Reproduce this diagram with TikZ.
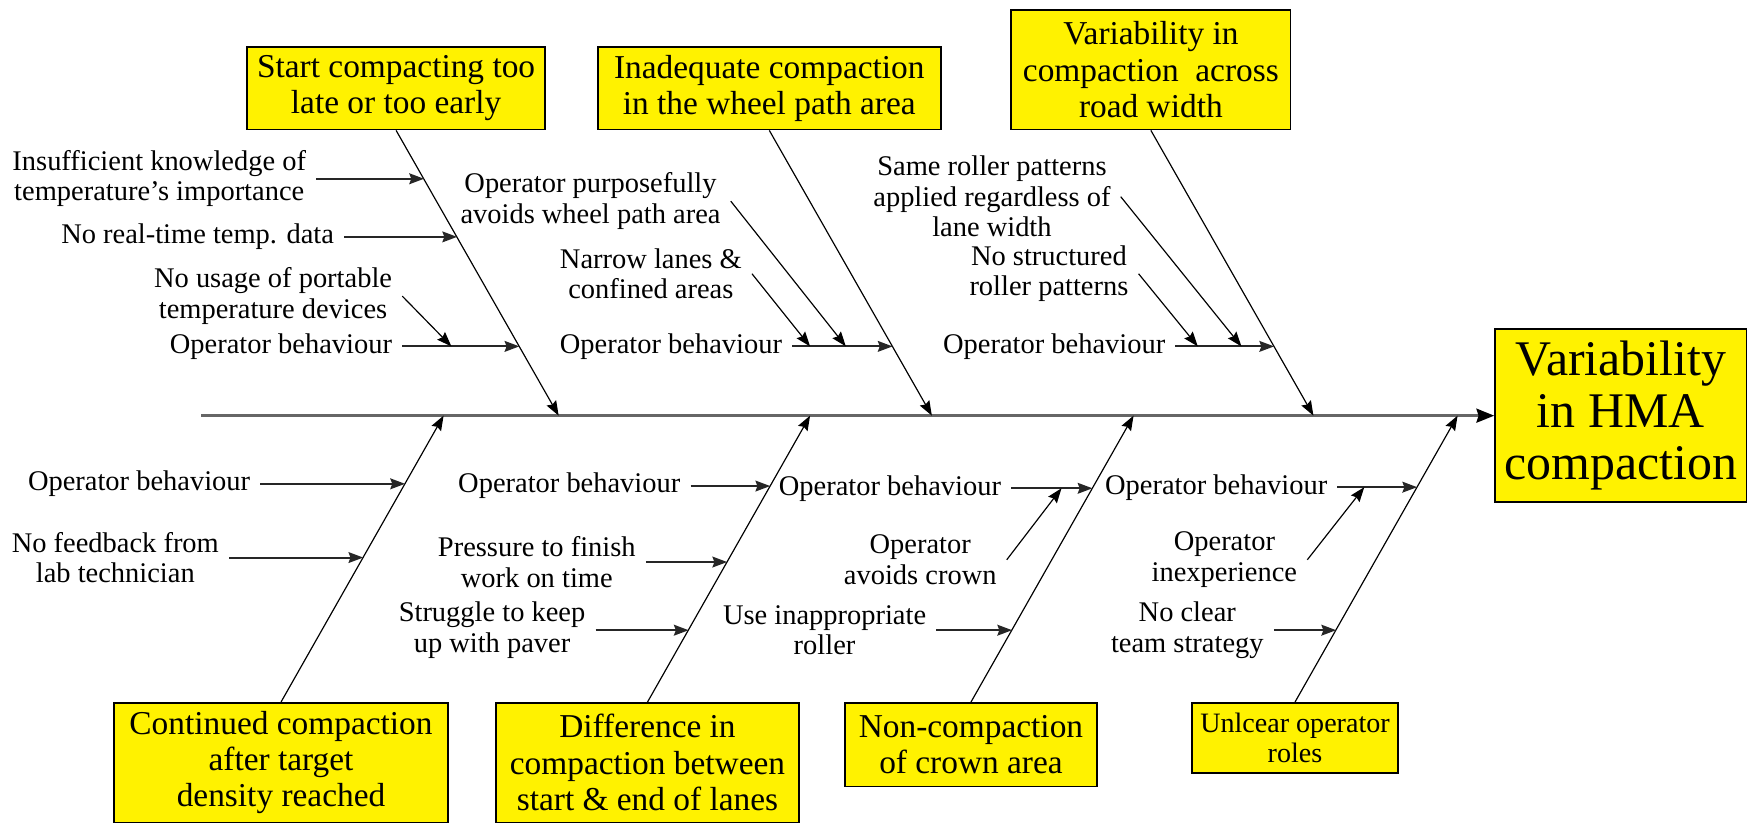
\documentclass[tikz,border=0pt]{standalone}
\usepackage{fontspec}
\setmainfont{Liberation Serif}
\usetikzlibrary{arrows.meta, positioning}
\tikzset{>={Stealth[length=7.5pt,width=5.5pt,inset=1pt]}}
\tikzset{
  cause/.style={draw=black, line width=0.8pt, fill=yellow, align=center, inner sep=2pt,
    font=\fontsize{17}{18.5}\selectfont},
  effect/.style={cause, font=\fontsize{25.4}{26.5}\selectfont, minimum width=4.5cm, minimum height=3.1cm},
  lbl/.style={align=center, inner sep=0pt, inner xsep=5pt, anchor=east,
    font=\fontsize{14.5}{15.5}\selectfont},
  spine/.style={line width=1.6pt, black!60, -{Stealth[length=9pt,width=7pt,inset=1pt,black]}},
  bone/.style={line width=0.6pt},
  twig/.style={line width=1pt, black!85}
}

\begin{document}
\begin{tikzpicture}[x=0.02cm, y=-0.02cm]
	\useasboundingbox (0,0) rectangle (1568,737);

	% effect and spine
	\node[effect] (E) at (1450.5,372) {Variability\\in HMA\\compaction};
	\coordinate (S) at (180,372);
	\draw[spine] (S) -- (E.west);

	% main causes
	\node[cause, minimum width=5.34cm, minimum height=1.48cm] (C1) at (354.5,79) {Start compacting too\\late or too early};
	\node[cause, minimum width=6.14cm, minimum height=1.48cm] (C2) at (688.5,79) {Inadequate compaction\\in the wheel path area};
	\node[cause, minimum width=5cm, minimum height=2.14cm] (C3) at (1030,62.5) {Variability in\\compaction\ \ across\\road width};
	\node[cause, minimum width=5.98cm, minimum height=2.14cm] (C4) at (251.5,682.5) {Continued compaction\\after target\\density reached};
	\node[cause, minimum width=5.42cm, minimum height=2.14cm] (C5) at (579.5,682.5) {Difference in\\compaction between\\start \& end of lanes};
	\node[cause, minimum width=4.52cm, minimum height=1.5cm] (C6) at (869,666.5) {Non-compaction\\of crown area};
	\node[cause, minimum width=3.68cm, minimum height=1.26cm, font=\fontsize{14.3}{15.3}\selectfont] (C7) at (1159,660.5) {Unlcear operator\\roles};

	\coordinate (s1) at (500,372);   \coordinate (s2) at (834,372);
	\coordinate (s3) at (1175.5,372);
	\coordinate (s4) at (397,372);   \coordinate (s5) at (725,372);
	\coordinate (s6) at (1014.5,372); \coordinate (s7) at (1304.5,372);
	\draw[bone,->] (C1.south) -- (s1); \draw[bone,->] (C2.south) -- (s2);
	\draw[bone,->] (C3.south) -- (s3);
	\draw[bone,->] (C4.north) -- (s4); \draw[bone,->] (C5.north) -- (s5);
	\draw[bone,->] (C6.north) -- (s6); \draw[bone,->] (C7.north) -- (s7);

	% start compacting too late or too early
	\node[lbl] (K1) at (283,160) {Insufficient knowledge of\\temperature's importance};
	\node[lbl] (K2) at (308,212) {No real-time temp. data};
	\node[lbl] (K3) at (360,265) {No usage of portable\\temperature devices};
	\node[lbl] (K4) at (360,310) {Operator behaviour};
	\coordinate (b1a) at (379.5,160); \coordinate (b1b) at (409.1,212);
	\coordinate (b1c) at (464.8,310); \coordinate (t1) at (404,310);
	\draw[twig,->] (K1.east) -- (b1a); \draw[twig,->] (K2.east) -- (b1b);
	\draw[twig,->] (K4.east) -- (b1c); \draw[bone,->] (K3.east) -- (t1);

	% wheel path area
	\node[lbl] (W1) at (654,180) {Operator purposefully\\avoids wheel path area};
	\node[lbl] (W2) at (673,245) {Narrow lanes \&\\confined areas};
	\node[lbl] (W3) at (709,310) {Operator behaviour};
	\coordinate (b2) at (798.8,310);
	\coordinate (t2a) at (757,310); \coordinate (t2b) at (725,310);
	\draw[twig,->] (W3.east) -- (b2);
	\draw[bone,->] (W1.east) -- (t2a); \draw[bone,->] (W2.east) -- (t2b);

	% across road width
	\node[lbl] (R1) at (1003,176) {Same roller patterns\\applied regardless of\\lane width};
	\node[lbl] (R2) at (1019,245) {No structured\\roller patterns};
	\node[lbl] (R3) at (1052,310) {Operator behaviour};
	\coordinate (b3) at (1140.3,310);
	\coordinate (t3a) at (1111,310); \coordinate (t3b) at (1072,310);
	\draw[twig,->] (R3.east) -- (b3);
	\draw[bone,->] (R1.east) -- (t3a); \draw[bone,->] (R2.east) -- (t3b);

	% continued compaction
	\node[lbl] (D1) at (233,433) {Operator behaviour};
	\node[lbl] (D2) at (205,499) {No feedback from\\lab technician};
	\coordinate (b4a) at (362.5,433); \coordinate (b4b) at (325.1,499);
	\draw[twig,->] (D1.east) -- (b4a); \draw[twig,->] (D2.east) -- (b4b);

	% start & end of lanes
	\node[lbl] (L1) at (618,435) {Operator behaviour};
	\node[lbl] (L2) at (578,503) {Pressure to finish\\work on time};
	\node[lbl] (L3) at (533,564) {Struggle to keep\\up with paver};
	\coordinate (b5a) at (689.3,435); \coordinate (b5b) at (650.8,503);
	\coordinate (b5c) at (616.3,564);
	\draw[twig,->] (L1.east) -- (b5a); \draw[twig,->] (L2.east) -- (b5b);
	\draw[twig,->] (L3.east) -- (b5c);

	% crown area
	\node[lbl] (N1) at (905,437) {Operator behaviour};
	\node[lbl] (N2) at (901,501) {Operator\\avoids crown};
	\node[lbl] (N3) at (838,564) {Use inappropriate\\roller};
	\coordinate (b6a) at (977.7,437); \coordinate (b6b) at (905.8,564);
	\coordinate (t6) at (950,437);
	\draw[twig,->] (N1.east) -- (b6a); \draw[twig,->] (N3.east) -- (b6b);
	\draw[bone,->] (N2.east) -- (t6);

	% operator roles
	\node[lbl] (U1) at (1197,436) {Operator behaviour};
	\node[lbl] (U2) at (1170,501) {Operator\\inexperience};
	\node[lbl] (U3) at (1140,564) {No clear\\team strategy};
	\coordinate (b7a) at (1268.3,436); \coordinate (b7b) at (1195.8,564);
	\coordinate (t7) at (1221,436);
	\draw[twig,->] (U1.east) -- (b7a); \draw[twig,->] (U3.east) -- (b7b);
	\draw[bone,->] (U2.east) -- (t7);
\end{tikzpicture}
\end{document}
